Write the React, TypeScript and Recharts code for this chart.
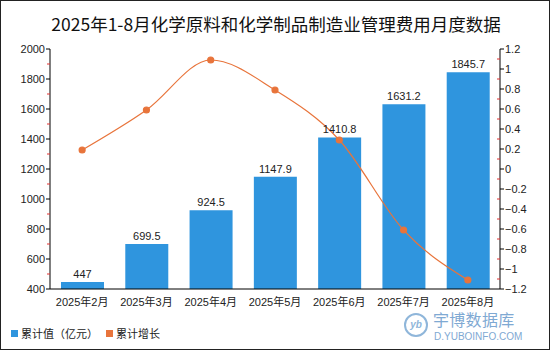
import { ComposedChart, Bar, Line, XAxis, YAxis, LabelList } from 'recharts'

const months = ['2025年2月', '2025年3月', '2025年4月', '2025年5月', '2025年6月', '2025年7月', '2025年8月']
const cumValue = [447, 699.5, 924.5, 1147.9, 1410.8, 1631.2, 1845.7]
const cumGrowth = [0.19, 0.59, 1.09, 0.79, 0.29, -0.61, -1.11]
const leftTicks = [400, 500, 600, 700, 800, 900, 1000, 1100, 1200, 1300, 1400, 1500, 1600, 1700, 1800, 1900, 2000]
const rightTicks = [-1.2, -1.1, -1, -0.9, -0.8, -0.7, -0.6, -0.5, -0.4, -0.3, -0.2, -0.1, 0, 0.1, 0.2, 0.3, 0.4, 0.5, 0.6, 0.7, 0.8, 0.9, 1, 1.1, 1.2]

const data = months.map((m, i) => ({ month: m, value: cumValue[i], growth: cumGrowth[i] }))

const FONT = '"Liberation Sans", "Noto Sans CJK SC", sans-serif'
const CJK = '"Noto Sans CJK SC", sans-serif'
const BLUE = '#2f95de'
const ORANGE = '#e8743b'
const MARGIN = 6

function LeftTick(props: any) {
  const { x, y, index, payload } = props
  const axisX = x + MARGIN
  const major = index % 2 === 0
  return (
    <g>
      <line x1={axisX - (major ? 4 : 3)} x2={axisX} y1={y} y2={y} stroke={major ? '#000' : '#e03030'} />
      {major && (
        <text x={axisX - 5} y={y} dy={4} textAnchor="end" fontSize={11} fill="#222" fontFamily={FONT}>
          {payload.value}
        </text>
      )}
    </g>
  )
}

function RightTick(props: any) {
  const { x, y, index, payload } = props
  const axisX = x - MARGIN
  const major = index % 2 === 0
  const v = Math.round(payload.value * 10) / 10
  return (
    <g>
      {major ? (
        <line x1={axisX} x2={axisX + 4} y1={y} y2={y} stroke="#000" />
      ) : (
        <line x1={axisX - 3} x2={axisX} y1={y} y2={y} stroke="#e03030" />
      )}
      {major && (
        <text x={axisX + 5} y={y} dy={4} textAnchor="start" fontSize={11} fill="#222" fontFamily={FONT}>
          {v < 0 ? '−' + Math.abs(v) : String(v)}
        </text>
      )}
    </g>
  )
}

export default function App() {
  return (
    <div
      style={{
        position: 'fixed',
        left: 0,
        top: 0,
        width: 550,
        height: 350,
        boxSizing: 'border-box',
        border: '1px solid #222',
        background: '#fff',
        fontFamily: FONT,
      }}
    >
      <div
        style={{
          position: 'absolute',
          top: 11,
          left: 0,
          width: 550,
          textAlign: 'center',
          fontSize: 17.5,
          fontWeight: 400,
          color: '#111',
          fontFamily: CJK,
          lineHeight: '24px',
        }}
      >
        2025年1-8月化学原料和化学制品制造业管理费用月度数据
      </div>
      <div style={{ position: 'absolute', left: -1, top: -1 }}>
        <ComposedChart width={550} height={350} data={data} margin={{ top: 49, right: 0, bottom: 36, left: 0 }}>
          <XAxis
            dataKey="month"
            tick={{ fontSize: 11, fill: '#222', fontFamily: FONT }}
            tickLine={false}
            axisLine={{ stroke: '#000' }}
            tickMargin={3}
            height={25}
          />
          <YAxis
            yAxisId="left"
            domain={[400, 2000]}
            ticks={leftTicks}
            interval={0}
            width={50}
            tickSize={0}
            tickMargin={MARGIN}
            axisLine={{ stroke: '#000' }}
            tick={<LeftTick />}
          />
          <YAxis
            yAxisId="right"
            orientation="right"
            domain={[-1.2, 1.2]}
            ticks={rightTicks}
            interval={0}
            width={50}
            tickSize={0}
            tickMargin={MARGIN}
            axisLine={{ stroke: '#000' }}
            tick={<RightTick />}
          />
          <Bar yAxisId="left" dataKey="value" fill={BLUE} barSize={43} isAnimationActive={false}>
            <LabelList dataKey="value" position="top" fontSize={11} fill="#222" fontFamily={FONT} offset={4} />
          </Bar>
          <Line
            yAxisId="right"
            type="monotone"
            dataKey="growth"
            stroke={ORANGE}
            strokeWidth={1.2}
            dot={{ r: 3, fill: ORANGE, stroke: ORANGE }}
            isAnimationActive={false}
          />
        </ComposedChart>
      </div>
      <div
        style={{
          position: 'absolute',
          left: 10,
          top: 324,
          fontSize: 11,
          color: '#222',
          display: 'flex',
          alignItems: 'center',
          fontFamily: CJK,
        }}
      >
        <span style={{ width: 7, height: 7, background: BLUE, display: 'inline-block', marginRight: 3 }} />
        <span style={{ marginRight: 8 }}>累计值（亿元）</span>
        <span style={{ width: 7, height: 7, background: ORANGE, display: 'inline-block', marginRight: 3 }} />
        <span>累计增长</span>
      </div>
      <div
        style={{
          position: 'absolute',
          left: 403,
          top: 312,
          width: 24,
          height: 24,
          borderRadius: 12,
          border: '2px solid #8fb6da',
          boxSizing: 'border-box',
          color: '#8fb6da',
          fontSize: 10,
          fontStyle: 'italic',
          textAlign: 'center',
          lineHeight: '20px',
          fontWeight: 700,
        }}
      >
        yb
      </div>
      <div
        style={{
          position: 'absolute',
          left: 432,
          top: 309,
          fontSize: 16,
          color: '#7fa9d3',
          fontFamily: CJK,
          letterSpacing: 0.3,
          lineHeight: '18px',
        }}
      >
        宇博数据库
      </div>
      <div
        style={{
          position: 'absolute',
          left: 433,
          top: 330,
          fontSize: 10,
          color: '#7fa9d3',
          lineHeight: '11px',
        }}
      >
        D.YUBOINFO.COM
      </div>
    </div>
  )
}
